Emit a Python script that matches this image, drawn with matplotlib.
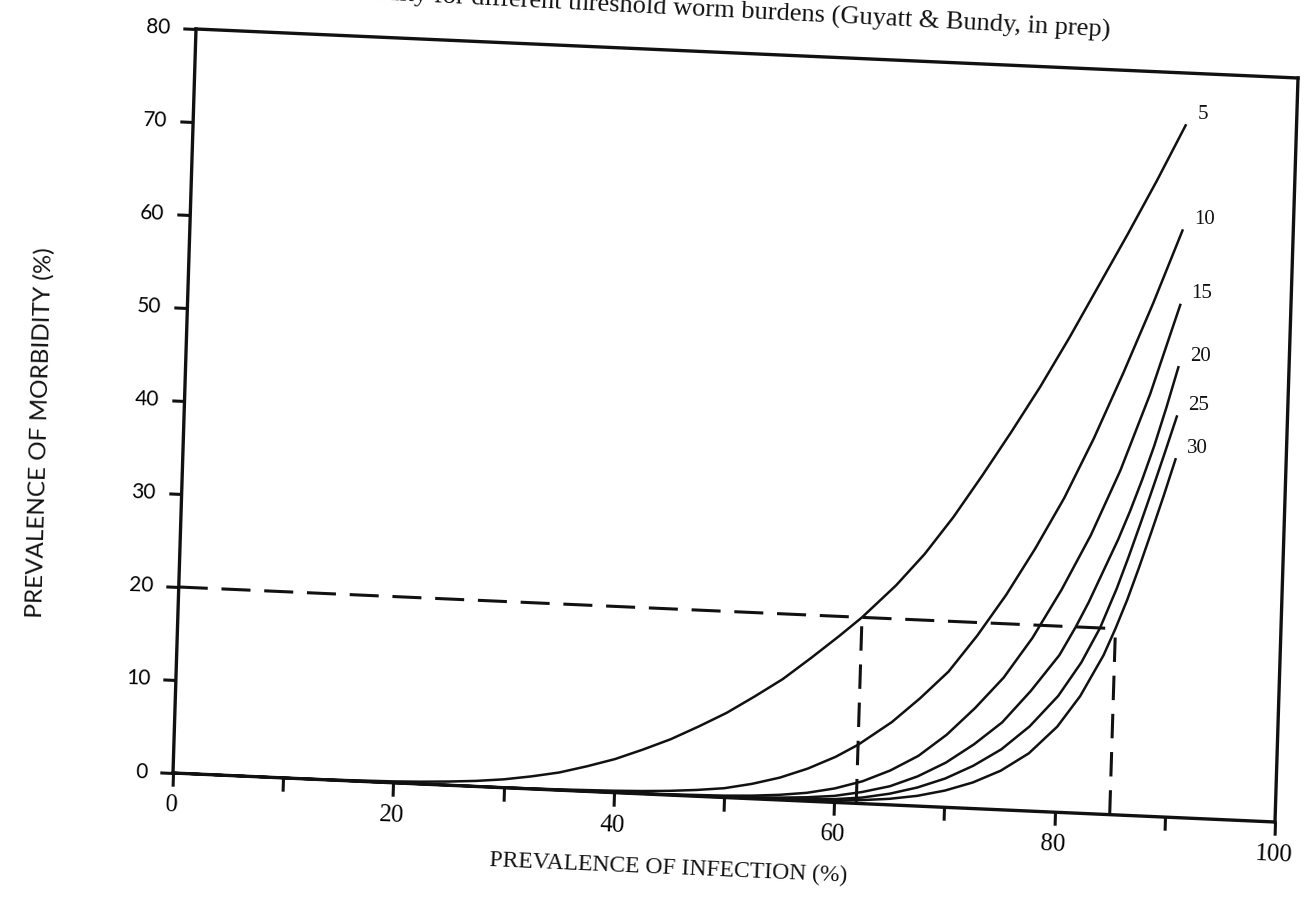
import matplotlib
matplotlib.use("Agg")
import matplotlib.pyplot as plt
from matplotlib.transforms import Affine2D
import mpl_toolkits.axisartist.floating_axes as floating_axes
from mpl_toolkits.axisartist.grid_finder import FixedLocator, DictFormatter

# ---------------------------------------------------------------- data
# prevalence of infection (%) vs prevalence of morbidity (%) for each
# threshold worm burden
thresholds = [5, 10, 15, 20, 25, 30]

x5 = [0, 10, 15, 20, 22.5, 25, 27.5, 30, 32.5, 35, 37.5, 40, 42.5, 45, 47.5,
      50, 52.5, 55, 57.5, 60, 62, 65, 67.5, 70, 72.5, 75, 77.5, 80, 82.5, 85,
      87.5, 90]
y5 = [0, 0, 0.05, 0.15, 0.25, 0.4, 0.6, 0.9, 1.35, 1.9, 2.7, 3.6, 4.75, 6.0,
      7.5, 9.1, 11.0, 13.0, 15.4, 17.9, 20.0, 23.6, 27.1, 31.2, 35.8, 40.6,
      45.6, 51.0, 56.7, 62.4, 68.3, 74.5]

x10 = [0, 20, 30, 35, 40, 42.5, 45, 47.5, 50, 52.5, 55, 57.5, 60, 62, 65, 67.5,
       70, 72.5, 75, 77.5, 80, 82.5, 85, 87.5, 90]
y10 = [0, 0, 0.02, 0.08, 0.2, 0.3, 0.45, 0.68, 1.0, 1.6, 2.4, 3.5, 4.9, 6.3,
       8.9, 11.6, 14.6, 18.6, 23.1, 28.2, 33.8, 40.3, 47.5, 55.1, 63.2]

x15 = [0, 30, 40, 45, 50, 52.5, 55, 57.5, 60, 62.5, 65, 67.5, 70, 72.5, 75,
       77.5, 80, 82.5, 85, 87.5, 90]
y15 = [0, 0, 0.03, 0.08, 0.2, 0.33, 0.55, 0.9, 1.5, 2.4, 3.7, 5.4, 7.8, 10.8,
       14.2, 18.6, 23.9, 29.9, 37.0, 45.4, 55.2]

x20 = [0, 40, 50, 55, 57.5, 60, 62.5, 65, 67.5, 70, 72.5, 75, 77.5, 80, 81.4,
       82.5, 85, 86, 87, 88, 89, 90]
y20 = [0, 0, 0.07, 0.25, 0.42, 0.7, 1.25, 2.0, 3.2, 4.8, 6.9, 9.4, 12.9, 16.9,
       20.0, 22.7, 29.6, 32.7, 36.1, 39.8, 44.0, 48.5]

x25 = [0, 50, 55, 60, 62.5, 65, 67.5, 70, 72.5, 75, 77.5, 80, 82, 83.6, 85, 86,
       87, 88, 89, 90]
y25 = [0, 0.02, 0.1, 0.35, 0.65, 1.2, 2.0, 3.1, 4.6, 6.5, 9.1, 12.5, 16.2, 20.0,
       24.3, 27.8, 31.5, 35.3, 39.2, 43.2]

x30 = [0, 55, 60, 62.5, 65, 67.5, 70, 72.5, 75, 77.5, 80, 82, 84, 85, 86, 87,
       88, 89, 90]
y30 = [0, 0.05, 0.2, 0.38, 0.65, 1.1, 1.8, 2.8, 4.2, 6.2, 9.2, 12.6, 17.1, 20.0,
       23.2, 26.8, 30.6, 34.5, 38.6]

curves_x = [x5, x10, x15, x20, x25, x30]
curves_y = [y5, y10, y15, y20, y25, y30]

# reading-off guides at 20 % morbidity
guide_level = 20
guide_x_low = 62
guide_x_high = 85

x_ticks = list(range(0, 101, 10))
x_tick_labels = {v: (str(v) if v % 20 == 0 else "") for v in x_ticks}
y_ticks = list(range(0, 81, 10))
y_tick_labels = {v: str(v) for v in y_ticks}

title = ("prevalence of morbidity for different threshold worm burdens "
         "(Guyatt & Bundy, in prep)")
x_title = "PREVALENCE OF INFECTION (%)"
y_title = "PREVALENCE OF MORBIDITY (%)"

# ---------------------------------------------------------------- figure
W, H = 1305, 922
fig = plt.figure(figsize=(W / 100, H / 100), dpi=100)
fig.patch.set_facecolor("white")

# the printed page sits slightly skewed: data units -> pixel position
page = Affine2D.from_values(11.02, -0.49, 0.2875, 9.30, 173, 149)

grid_helper = floating_axes.GridHelperCurveLinear(
    page, extremes=(0, 100, 0, 80),
    grid_locator1=FixedLocator(x_ticks),
    grid_locator2=FixedLocator(y_ticks),
    tick_formatter1=DictFormatter(x_tick_labels),
    tick_formatter2=DictFormatter(y_tick_labels),
)
ax = fig.add_axes([0, 0, 1, 1], axes_class=floating_axes.FloatingAxes,
                  grid_helper=grid_helper)
ax.set_xlim(0, W)
ax.set_ylim(0, H)

INK = "#111111"
for side in ["left", "right", "top", "bottom"]:
    ax.axis[side].line.set_linewidth(2.4)
    ax.axis[side].line.set_color(INK)
    ax.axis[side].label.set_visible(False)
for side in ["top", "right"]:
    ax.axis[side].toggle(ticks=False, ticklabels=False, label=False)
for side in ["left", "bottom"]:
    a = ax.axis[side]
    a.major_ticks.set_tick_out(True)
    a.major_ticks.set_ticksize(9.5)
    a.major_ticks.set_markeredgewidth(2.2)
    a.major_ticks.set_color(INK)

bt = ax.axis["bottom"].major_ticklabels
bt.set_fontfamily("Liberation Serif")
bt.set_fontsize(18)
bt.set_pad(6)
lt = ax.axis["left"].major_ticklabels
lt.set_fontfamily("Lato")
lt.set_fontsize(15)
lt.set_pad(9)

aux = ax.get_aux_axes(page)

for t, xs, ys in zip(thresholds, curves_x, curves_y):
    aux.plot(xs, ys, color=INK, lw=1.8, solid_capstyle="butt",
             solid_joinstyle="round")
    aux.annotate(str(t), xy=(xs[-1], ys[-1]), xytext=(11, 10),
                 textcoords="offset pixels", ha="left", va="center",
                 fontsize=15, family="Liberation Serif", color=INK,
                 annotation_clip=False)

aux.plot([0, guide_x_high], [guide_level, guide_level], color=INK, lw=2.2,
         dashes=(9.5, 4.5))
aux.plot([guide_x_low, guide_x_low], [0, guide_level], color=INK, lw=2.2,
         dashes=(8, 4.5))
aux.plot([guide_x_high, guide_x_high], [0, guide_level], color=INK, lw=2.2,
         dashes=(8, 4.5))


def at(px, py):
    """pixel position measured from the top-left corner -> figure fraction"""
    return px / W, 1 - py / H


fig.text(*at(1110, 37), title, ha="right", va="baseline", rotation=-2.9,
         rotation_mode="anchor", fontsize=19, family="Liberation Serif",
         color=INK)
fig.text(*at(668, 868), x_title, ha="center", va="center", rotation=-2.5,
         rotation_mode="anchor", fontsize=17, family="Liberation Serif",
         color=INK)
fig.text(*at(40, 432), y_title, ha="center", va="center", rotation=88.5,
         rotation_mode="anchor", fontsize=17.5, family="Lato", color=INK)

fig.savefig("out.png", dpi=100, facecolor="white")
